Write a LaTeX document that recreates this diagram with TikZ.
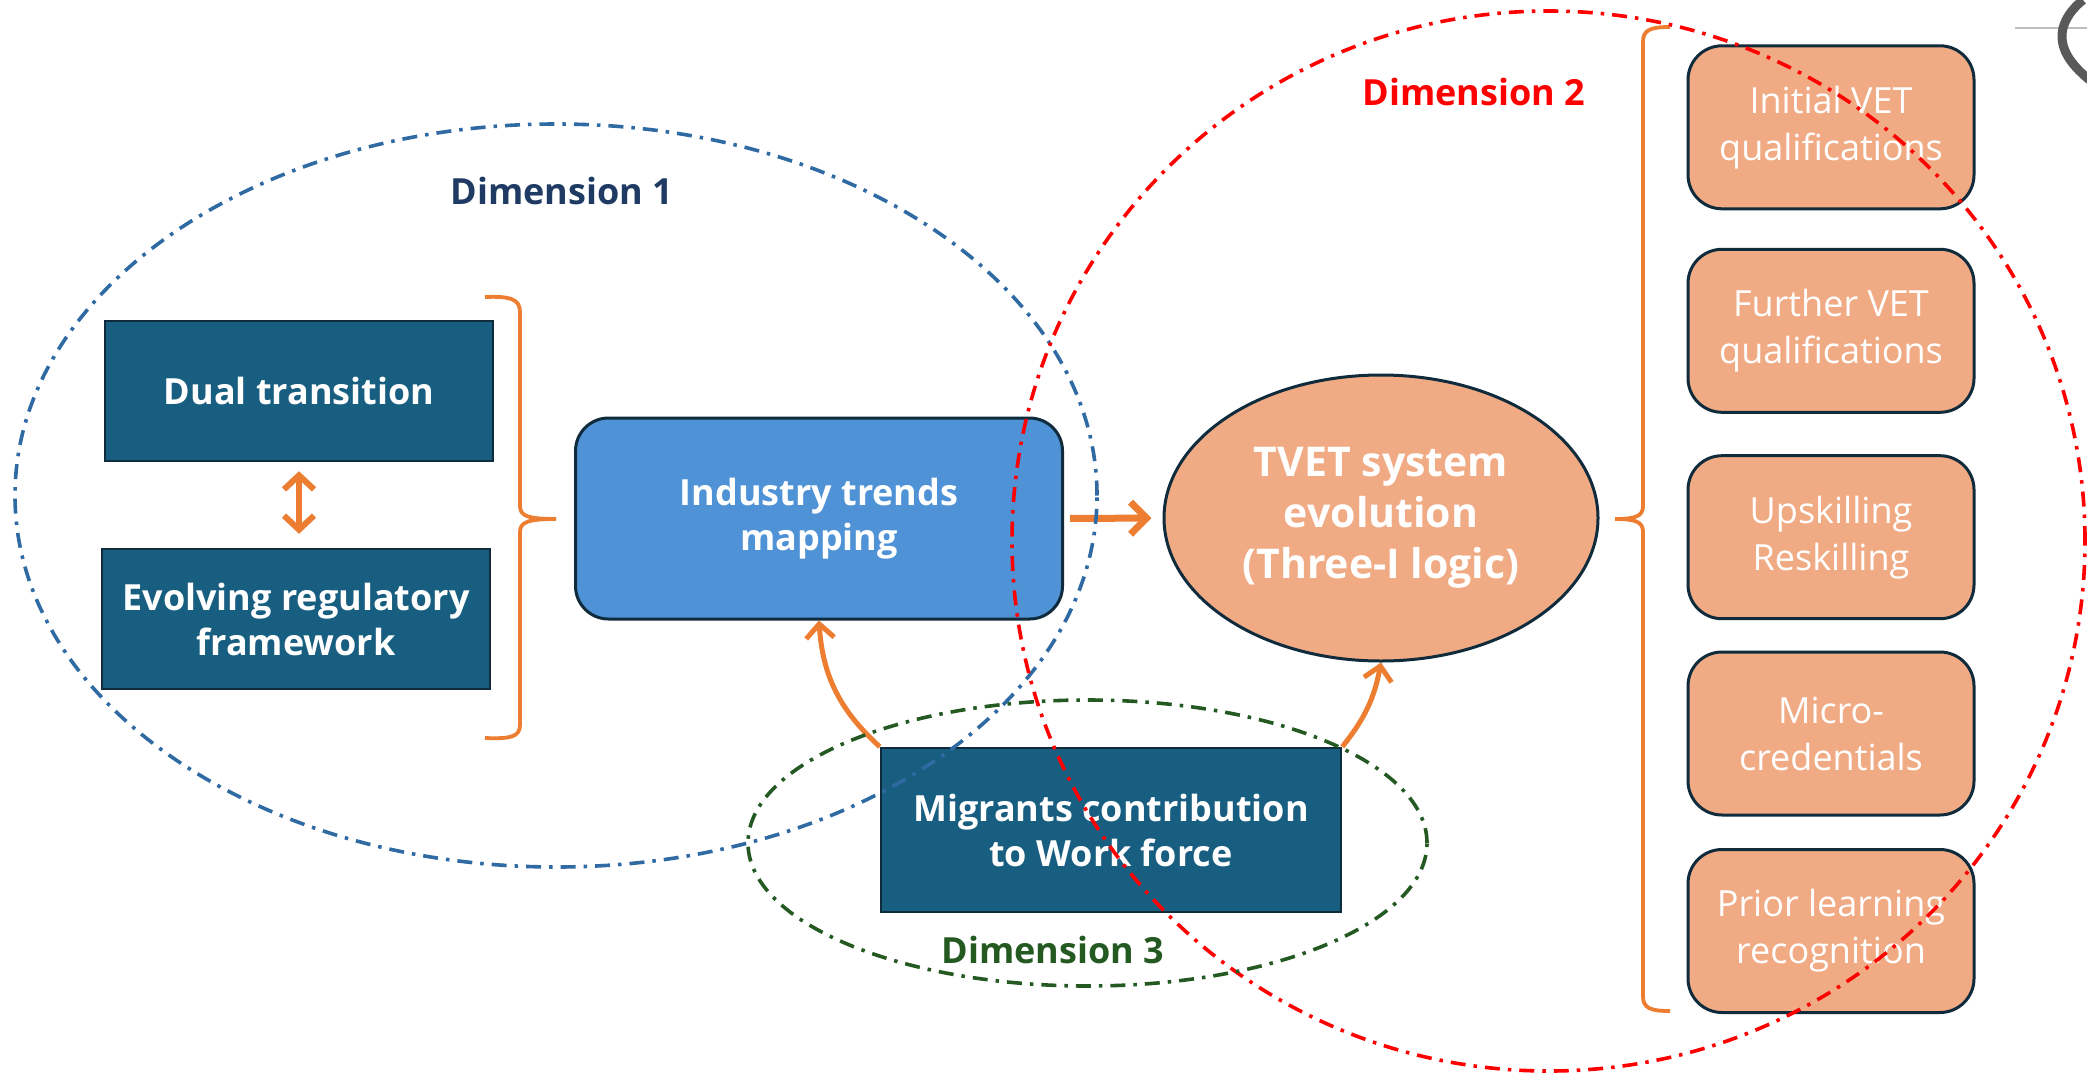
\documentclass[tikz,border=0pt]{standalone}
\usepackage{fontspec}
\setmainfont{Open Sans}
\usetikzlibrary{arrows.meta,calc,shapes.geometric}
\definecolor{darkteal}{HTML}{185E80}
\definecolor{boxedge}{HTML}{0F2B3C}
\definecolor{indblue}{HTML}{4F93D6}
\definecolor{peach}{HTML}{F1AB84}
\definecolor{orangeln}{HTML}{ED7D31}
\definecolor{dimblue}{HTML}{2F6AA3}
\definecolor{dimnavy}{HTML}{1F3B63}
\definecolor{dimred}{HTML}{FF0000}
\definecolor{dimgreen}{HTML}{245A22}
\definecolor{artgray}{HTML}{595959}
\begin{document}
\begin{tikzpicture}[x=1pt,y=1pt,
  darkbox/.style={draw=boxedge, line width=2.5pt, fill=darkteal, text=white,
    font=\bfseries\fontsize{36}{45}\selectfont, align=center, inner sep=0pt},
  indbox/.style={draw=boxedge, line width=3pt, fill=indblue, text=white, rounded corners=33pt,
    font=\bfseries\fontsize{36}{45}\selectfont, align=center, inner sep=0pt,
    minimum width=487pt, minimum height=201pt},
  tvetnode/.style={ellipse, draw=boxedge, line width=3pt, fill=peach, text=white,
    font=\bfseries\fontsize{41}{51}\selectfont, align=center, inner sep=0pt,
    minimum width=434pt, minimum height=286pt},
  peachbox/.style={draw=boxedge, line width=3pt, fill=peach, text=white, rounded corners=34pt,
    font=\fontsize{36}{47}\selectfont, align=center, inner sep=0pt,
    minimum width=286pt, minimum height=163pt},
  dimlabel/.style={font=\bfseries\fontsize{36}{43}\selectfont, inner sep=0pt},
  dimline/.style={line width=3.6pt, dash pattern=on 15pt off 8pt on 3.5pt off 8pt},
  bracestyle/.style={draw=orangeln, line width=3.8pt},
  oarrow/.style={draw=orangeln, line width=7pt, -{Straight Barb[length=16pt,width=32pt]}},
  carrow/.style={draw=orangeln, line width=5pt, -{Straight Barb[length=14pt,width=28pt]}},
  darrow/.style={draw=orangeln, line width=6pt, {Straight Barb[length=14pt,width=30pt]}-{Straight Barb[length=14pt,width=30pt]}}
]
\useasboundingbox (0,0) rectangle (2087,-1074);
\fill[white] (0,0) rectangle (2087,-1074);

% stray artefact at top right
\draw[black!25, line width=2pt] (2015,-27.7) -- (2087,-27.7);
\draw[artgray, line width=9pt] (2083,0) .. controls (2068,-12) and (2062,-25) .. (2062,-36) .. controls (2062,-52) and (2072,-66) .. (2092,-82);

% boxes
\node[darkbox, minimum width=388pt, minimum height=140pt] (dual) at (299,-391) {Dual transition};
\node[darkbox, minimum width=388pt, minimum height=140pt] (evo) at (296,-619) {Evolving regulatory\\framework};
\node[indbox] (ind) at (819,-518.5) {Industry trends\\mapping};
\node[tvetnode] (tvet) at (1381,-518) {TVET system\\evolution\\(Three-I logic)};
\node[darkbox, minimum width=460pt, minimum height=164pt] (mig) at (1111,-830) {Migrants contribution\\to Work force};

\node[peachbox] (r1) at (1831,-127.3) {Initial VET\\qualifications};
\node[peachbox] (r2) at (1831,-330.8) {Further VET\\qualifications};
\node[peachbox] (r3) at (1831,-537.2) {Upskilling\\Reskilling};
\node[peachbox] (r4) at (1831,-733.5) {Micro-\\credentials};
\node[peachbox] (r5) at (1831,-931) {Prior learning\\recognition};

% braces
\draw[bracestyle] (485,-297) .. controls (510,-296) and (520,-299) .. (520,-312) -- (520,-506) .. controls (520,-516) and (528,-519) .. (556,-519);
\draw[bracestyle] (556,-519) .. controls (528,-519) and (520,-522) .. (520,-532) -- (520,-725) .. controls (520,-737) and (510,-739) .. (485,-738);
\draw[bracestyle] (1670,-27) .. controls (1650,-27) and (1643,-30) .. (1643,-42) -- (1643,-506) .. controls (1643,-516) and (1636,-519) .. (1615,-519);
\draw[bracestyle] (1615,-519) .. controls (1636,-519) and (1643,-522) .. (1643,-532) -- (1643,-996) .. controls (1643,-1008) and (1650,-1011) .. (1670,-1011);

% connectors
\draw[darrow, shorten <=9pt, shorten >=14pt] (dual.south) -- (dual.south |- evo.north);
\draw[oarrow, shorten <=6pt, shorten >=11pt] (ind.east) -- (tvet.west);
\draw[carrow] (mig.north west) to[bend left=22] (ind.south);
\draw[carrow] (mig.north east) to[bend right=14] (tvet.south);

% dimension outlines
\draw[dimline, dimblue] (556,-495.5) ellipse [x radius=541pt, y radius=371.5pt];
\draw[dimline, dimred] (1548.5,-541) ellipse [x radius=536.5pt, y radius=530pt];
\draw[dimline, dimgreen] (1087.5,-843) ellipse [x radius=339.5pt, y radius=143pt];

% labels
\node[dimlabel, text=dimnavy] (d1) at (562,-191) {Dimension 1};
\node[dimlabel, text=dimred] (d2) at (1474,-91.5) {Dimension 2};
\node[dimlabel, text=dimgreen] (d3) at (1053,-950) {Dimension 3};
\end{tikzpicture}
\end{document}
